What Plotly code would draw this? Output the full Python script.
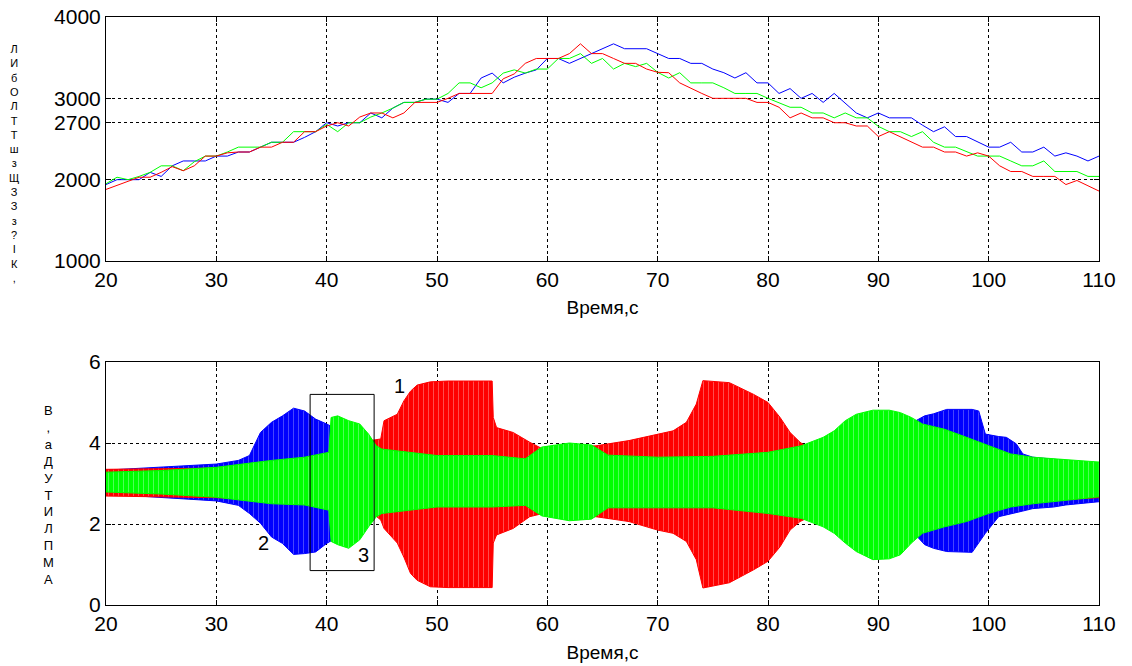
import plotly.graph_objects as go

# ---------------- top chart data (speed, every 1 s) ----------------
t_top = list(range(20, 111))
speed_red = [1880, 1930, 1980, 2030, 2030, 2090, 2160, 2110, 2170, 2290, 2290, 2330, 2340, 2340, 2400, 2400,
             2460, 2460, 2590, 2590, 2660, 2700, 2660, 2770, 2820, 2820, 2760, 2820, 2950, 2950, 2950, 3000,
             3060, 3060, 3060, 3060, 3240, 3300, 3430, 3490, 3490, 3490, 3550, 3670, 3550, 3550, 3490, 3430,
             3430, 3360, 3320, 3315, 3190, 3120, 3060, 3000, 3000, 3000, 3000, 2950, 2950, 2890, 2760, 2820,
             2760, 2760, 2700, 2700, 2660, 2660, 2530, 2590, 2530, 2460, 2400, 2400, 2340, 2340, 2290, 2330,
             2290, 2170, 2100, 2100, 2040, 2040, 2040, 1940, 1990, 1925, 1860]
speed_green = [1950, 2030, 2000, 2040, 2090, 2170, 2170, 2110, 2220, 2290, 2290, 2340, 2400, 2400, 2400, 2460,
               2460, 2590, 2590, 2590, 2680, 2590, 2700, 2700, 2770, 2820, 2880, 2950, 2950, 2990, 2990, 3060,
               3190, 3190, 3130, 3190, 3310, 3350, 3310, 3360, 3360, 3490, 3490, 3550, 3430, 3490, 3360, 3430,
               3390, 3430, 3320, 3250, 3315, 3190, 3190, 3190, 3130, 3060, 3060, 3060, 3000, 2940, 2890, 2890,
               2820, 2820, 2760, 2820, 2760, 2760, 2655, 2590, 2590, 2530, 2590, 2460, 2400, 2400, 2340, 2290,
               2290, 2290, 2230, 2170, 2170, 2230, 2100, 2100, 2100, 2040, 2040]
speed_blue = [1940, 2000, 2000, 2000, 2090, 2040, 2170, 2230, 2230, 2230, 2290, 2290, 2340, 2340, 2400, 2460,
              2460, 2460, 2520, 2590, 2700, 2660, 2700, 2700, 2820, 2760, 2880, 2950, 2950, 2990, 2990, 2950,
              3060, 3060, 3250, 3310, 3190, 3260, 3310, 3350, 3490, 3490, 3430, 3490, 3550, 3610, 3670, 3610,
              3610, 3610, 3550, 3490, 3490, 3430, 3430, 3360, 3315, 3250, 3315, 3190, 3190, 3060, 3120, 3000,
              3060, 2950, 3060, 2940, 2820, 2760, 2820, 2760, 2760, 2760, 2670, 2590, 2650, 2530, 2530, 2460,
              2400, 2400, 2460, 2340, 2340, 2400, 2290, 2330, 2290, 2230, 2290]

top_yticks = [1000, 2000, 2700, 3000, 4000]
x_ticks = [20, 30, 40, 50, 60, 70, 80, 90, 100, 110]

# ---------------- bottom chart data (amplitude envelopes) ----------------
blue_t = [20, 25, 30, 32, 33, 34, 35, 36, 37, 38, 39, 40, 40.5, 44, 50, 60, 70, 80, 88, 91, 92.8,
          93.4, 94.2, 95, 96.2, 98.5, 99.1, 99.7, 100.9, 101.6, 102.5, 103.1, 104, 105.9, 107, 110]
blue_hi = [3.33, 3.40, 3.48, 3.57, 3.69, 4.26, 4.51, 4.67, 4.86, 4.79, 4.59, 4.47, 4.40, 3.60, 3.55, 3.60,
           3.60, 3.60, 3.80, 3.95, 4.30, 4.55, 4.67, 4.72, 4.83, 4.83, 4.79, 4.22, 4.16, 4.14, 3.98, 3.73,
           3.65, 3.60, 3.57, 3.49]
blue_lo = [2.74, 2.66, 2.57, 2.46, 2.26, 2.02, 1.68, 1.52, 1.25, 1.27, 1.31, 1.52, 1.60, 2.40, 2.45, 2.40,
           2.40, 2.40, 2.20, 2.00, 1.90, 1.73, 1.49, 1.40, 1.32, 1.30, 1.53, 1.77, 2.18, 2.22, 2.28, 2.32,
           2.38, 2.42, 2.47, 2.55]

red_t = [20, 25, 30, 35, 40, 43, 44.0, 44.9, 45.2, 46.4, 47.0, 47.6, 48.2, 49.4, 51, 55, 55.1, 55.4, 56.9,
         58.4, 59.6, 61.4, 64.4, 67.4, 70, 71.4, 72.6, 73.5, 74.1, 76.5, 78.7, 80, 81.1, 82, 82.9, 83.8,
         90, 100, 110]
red_hi = [3.35, 3.36, 3.38, 3.45, 3.50, 3.60, 4.06, 4.10, 4.55, 4.71, 5.04, 5.28, 5.43, 5.51, 5.53, 5.53,
          4.63, 4.38, 4.26, 4.02, 3.85, 3.90, 3.93, 4.06, 4.22, 4.30, 4.51, 4.96, 5.54, 5.49, 5.20, 5.00,
          4.63, 4.26, 4.02, 3.85, 3.60, 3.50, 3.35]
red_lo = [2.69, 2.67, 2.65, 2.58, 2.50, 2.40, 2.30, 2.10, 1.89, 1.53, 1.18, 0.78, 0.61, 0.45, 0.43, 0.43,
          1.53, 1.73, 1.89, 2.18, 2.26, 2.14, 2.18, 2.06, 1.85, 1.77, 1.57, 1.12, 0.42, 0.55, 0.87, 1.08,
          1.44, 1.85, 2.06, 2.18, 2.40, 2.50, 2.65]

green_t = [20, 25, 30, 35, 38, 40.2, 40.4, 41, 42, 43, 43.8, 44.5, 45, 50, 55, 58, 59.5, 62, 64, 65.5,
           70, 75, 80, 83, 85, 86, 87, 88, 89.5, 91, 92, 93, 94, 96, 98, 100, 102, 104, 106, 110]
green_hi = [3.28, 3.32, 3.40, 3.57, 3.65, 3.77, 4.63, 4.67, 4.55, 4.47, 4.22, 3.93, 3.85, 3.69, 3.69, 3.61,
            3.90, 4.00, 3.95, 3.70, 3.65, 3.67, 3.77, 3.93, 4.14, 4.30, 4.55, 4.71, 4.81, 4.81, 4.75, 4.63,
            4.47, 4.34, 4.14, 3.93, 3.73, 3.65, 3.61, 3.53]
green_lo = [2.79, 2.74, 2.66, 2.50, 2.47, 2.34, 1.57, 1.49, 1.40, 1.61, 1.93, 2.18, 2.26, 2.42, 2.42, 2.46,
            2.20, 2.08, 2.12, 2.40, 2.40, 2.40, 2.26, 2.14, 1.93, 1.77, 1.53, 1.32, 1.12, 1.14, 1.24, 1.53,
            1.77, 1.93, 2.06, 2.26, 2.42, 2.50, 2.55, 2.67]

bottom_yticks = [0, 2, 4, 6]

curve_labels = ["1", "2", "3"]
curve_label_x = [46.6, 34.3, 43.3]
curve_label_y = [5.40, 1.52, 1.24]

x_title = "Время,с"
top_label_chars = ["Л", "И", "б", "О", "Л", "Т", "Т", "ш", "з", "Щ", "З", "З", "з", "?", "І", "К", ","]
bottom_label_chars = ["В", ",", "а", "Д", "У", "Т", "И", "Л", "П", "М", "А"]

# ---------------- figure ----------------
W, H = 1132, 666
ML, MR, MT, MB = 106, 33, 17, 61
PH = H - MT - MB
PW = W - ML - MR


def py(pix):
    return (H - MB - pix) / PH


def px(pix):
    return (pix - ML) / PW


top_dom = [py(261), 1.0]
bot_dom = [0.0, py(362)]

FONT = "Liberation Sans, Arial, Helvetica, sans-serif"
RED, GREEN, BLUE = "#ff0000", "#00ff00", "#0000ff"
TINT = {RED: "#ff9a9a", GREEN: "#9affb0", BLUE: "#8a8aff"}

fig = go.Figure()

for y, c in [(speed_blue, BLUE), (speed_green, GREEN), (speed_red, RED)]:
    fig.add_trace(go.Scatter(x=t_top, y=y, mode="lines", line=dict(color=c, width=1),
                             xaxis="x", yaxis="y", showlegend=False, hoverinfo="skip"))

for tt, hi, lo, c in [(blue_t, blue_hi, blue_lo, BLUE), (red_t, red_hi, red_lo, RED),
                      (green_t, green_hi, green_lo, GREEN)]:
    fig.add_trace(go.Scatter(x=tt + tt[::-1], y=hi + lo[::-1], mode="lines", fill="toself",
                             fillcolor=c,
                             fillpattern=dict(shape="|", bgcolor=c, fgcolor=TINT[c], size=5, solidity=0.2),
                             line=dict(color=c, width=1),
                             xaxis="x2", yaxis="y2", showlegend=False, hoverinfo="skip"))

axis_common = dict(showline=True, linecolor="black", linewidth=1, mirror="allticks",
                   ticks="inside", ticklen=5, tickcolor="black", showgrid=True,
                   gridcolor="black", griddash="dot", gridwidth=1, zeroline=False, automargin=False,
                   ticklabeloverflow="allow",
                   tickfont=dict(family=FONT, size=21, color="black"))

fig.update_layout(
    width=W, height=H, paper_bgcolor="white", plot_bgcolor="white",
    margin=dict(l=ML, r=MR, t=MT, b=MB, autoexpand=False),
    font=dict(family=FONT, size=20, color="black"),
    xaxis=dict(domain=[0, 1], anchor="y", range=[20, 110], tickvals=x_ticks,
               title=dict(text=x_title, standoff=10, font=dict(size=19)), **axis_common),
    yaxis=dict(domain=top_dom, anchor="x", range=[1000, 4000], tickvals=top_yticks, **axis_common),
    xaxis2=dict(domain=[0, 1], anchor="y2", range=[20, 110], tickvals=x_ticks,
                title=dict(text=x_title, standoff=11, font=dict(size=19)), **axis_common),
    yaxis2=dict(domain=bot_dom, anchor="x2", range=[0, 6], tickvals=bottom_yticks, **axis_common),
)

fig.add_shape(type="rect", xref="x2", yref="y2", x0=38.5, x1=44.3, y0=0.85, y1=5.2,
              line=dict(color="black", width=1), fillcolor="rgba(0,0,0,0)")

for txt, xx, yy in zip(curve_labels, curve_label_x, curve_label_y):
    fig.add_annotation(text=txt, x=xx, y=yy, xref="x2", yref="y2", showarrow=False,
                       font=dict(family=FONT, size=20, color="black"))

# stacked (vertical) y-axis labels, as in the reference
fig.add_annotation(text="<br>".join(top_label_chars), x=px(14), y=py(163), xref="paper", yref="paper",
                   showarrow=False, xanchor="center", yanchor="middle", align="center",
                   font=dict(family=FONT, size=11, color="black"))
fig.add_annotation(text="<br>".join(bottom_label_chars), x=px(48), y=py(495), xref="paper", yref="paper",
                   showarrow=False, xanchor="center", yanchor="middle", align="center",
                   font=dict(family=FONT, size=13, color="black"))

# remove the default 8 px page margin so the figure fills the window exactly
fig.write_html("out.html", config={"displayModeBar": False},
               post_script="document.body.style.margin='0px';")
